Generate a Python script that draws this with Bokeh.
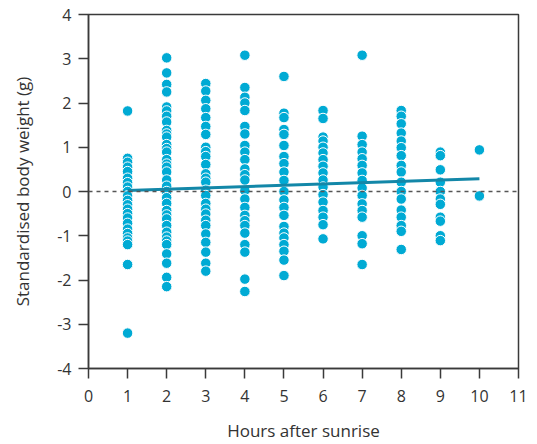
from bokeh.plotting import figure
from bokeh.models import Range1d, FixedTicker, Span
from bokeh.embed import file_html
from bokeh.resources import INLINE

# Data (hours after sunrise -> standardised weights)
w1 = [1.82, 0.75, 0.66, 0.55, 0.45, 0.3, 0.2, 0.1, 0.0, -0.1, -0.2, -0.3, -0.4, -0.5,
      -0.6, -0.72, -0.85, -0.95, -1.05, -1.12, -1.2, -1.65, -3.2]
w2 = [3.02, 2.68, 2.42, 2.25, 1.91, 1.82, 1.7, 1.57, 1.38, 1.3, 1.23, 1.06, 0.97, 0.89,
      0.72, 0.62, 0.55, 0.44, 0.26, 0.12, 0.0, -0.14, -0.27, -0.43, -0.53, -0.62, -0.77,
      -0.92, -1.03, -1.12, -1.2, -1.41, -1.62, -1.94, -2.15]
w3 = [2.44, 2.27, 2.06, 1.87, 1.67, 1.47, 1.29, 1.0, 0.9, 0.79, 0.61, 0.4, 0.3, 0.21,
      0.03, -0.09, -0.27, -0.4, -0.51, -0.65, -0.77, -0.96, -1.15, -1.37, -1.62, -1.8]
w4 = [3.08, 2.35, 2.13, 2.0, 1.83, 1.47, 1.3, 1.04, 0.89, 0.72, 0.51, 0.38, 0.26, 0.02,
      -0.17, -0.36, -0.54, -0.66, -0.77, -0.94, -1.2, -1.37, -1.98, -2.26]
w5 = [2.6, 1.77, 1.67, 1.4, 1.29, 1.04, 0.79, 0.63, 0.44, 0.25, 0.0, -0.19, -0.36,
      -0.54, -0.79, -0.94, -1.05, -1.2, -1.35, -1.55, -1.9]
w6 = [1.83, 1.65, 1.23, 1.14, 1.0, 0.87, 0.72, 0.57, 0.42, 0.26, 0.1, -0.07, -0.24,
      -0.43, -0.58, -0.75, -1.07]
w7 = [3.08, 1.25, 1.06, 0.89, 0.74, 0.59, 0.42, 0.25, 0.08, -0.09, -0.28, -0.43,
      -0.58, -1.0, -1.18, -1.65]
w8 = [1.83, 1.7, 1.53, 1.32, 1.14, 0.99, 0.81, 0.59, 0.44, 0.21, 0.0, -0.17, -0.42,
      -0.58, -0.77, -0.9, -1.31]
w9 = [0.89, 0.81, 0.49, 0.21, 0.0, -0.17, -0.29, -0.58, -0.67, -1.0, -1.11]
w10 = [0.94, -0.1]
hours = [1, 2, 3, 4, 5, 6, 7, 8, 9, 10]
weights = [w1, w2, w3, w4, w5, w6, w7, w8, w9, w10]

fit_x = [1, 10]
fit_y = [0.02, 0.29]

x_ticks = list(range(0, 12))
y_ticks = list(range(-4, 5))
y_tick_labels = {t: str(t) for t in y_ticks}  # plain hyphen minus as in the reference

xs, ys = [], []
for h, ws in zip(hours, weights):
    for w in ws:
        xs.append(h)
        ys.append(w)

p = figure(output_backend="svg", toolbar_location=None,
           frame_width=430, frame_height=354,
           min_border_left=88, min_border_top=14, min_border_right=10, min_border_bottom=74,
           x_range=Range1d(0, 11), y_range=Range1d(-4, 4))
p.background_fill_color = "white"
p.border_fill_color = "white"
p.outline_line_color = "#3a3a3a"
p.outline_line_width = 1.5
p.xgrid.visible = False
p.ygrid.visible = False

FONT = "Open Sans"
for ax, ticks in ((p.xaxis[0], x_ticks), (p.yaxis[0], y_ticks)):
    ax.ticker = FixedTicker(ticks=ticks)
    ax.minor_tick_line_color = None
    ax.major_tick_in = 0
    ax.major_tick_out = 10
    ax.axis_line_color = "#3a3a3a"
    ax.axis_line_width = 1.5
    ax.major_tick_line_color = "#3a3a3a"
    ax.major_tick_line_width = 1.5
    ax.major_label_text_font = FONT
    ax.major_label_text_font_size = "16px"
    ax.major_label_text_color = "#333333"
    ax.axis_label_text_font = FONT
    ax.axis_label_text_font_size = "17px"
    ax.axis_label_text_font_style = "normal"
    ax.axis_label_text_color = "#333333"

p.yaxis.major_label_overrides = y_tick_labels
p.xaxis.axis_label = "Hours after sunrise"
p.yaxis.axis_label = "Standardised body weight (g)"
p.xaxis.major_label_standoff = 11
p.yaxis.major_label_standoff = 7
p.xaxis.axis_label_standoff = 14
p.yaxis.axis_label_standoff = 20

zero = Span(location=0, dimension="width", line_color="#555555",
            line_dash="4 4", line_width=1.5)
p.add_layout(zero)

p.scatter(xs, ys, size=10.5, fill_color="#00aad4", line_color="white", line_width=1)
p.line(fit_x, fit_y, line_color="#1387a8", line_width=3)

open("out.html", "w").write(file_html(p, INLINE))
